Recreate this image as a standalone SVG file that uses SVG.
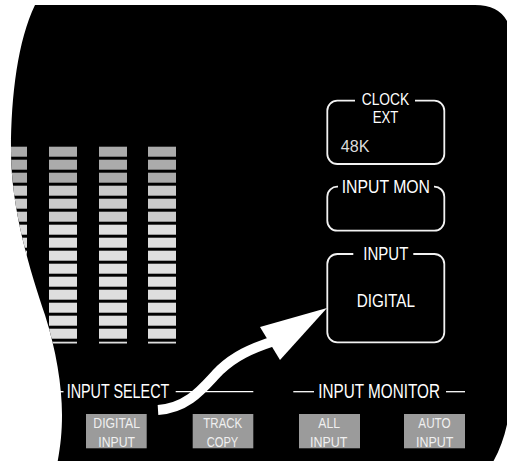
<svg xmlns="http://www.w3.org/2000/svg" width="507" height="461" viewBox="0 0 507 461">
<style>
.t{font-family:"Liberation Sans",Arial,sans-serif;fill:#fff}
.box{fill:none;stroke:#f2f2f2;stroke-width:1.8}
.btn{fill:#9b9b9b}
.bt{font-family:"Liberation Sans",Arial,sans-serif;fill:#f0f0f0;font-size:15px;text-anchor:middle}
.ln{stroke:#fff;stroke-width:1.3}
.d{fill:#ababab}.m{fill:#cbcbcb}.l{fill:#dedede}
</style>
<defs>
<clipPath id="panelClip">
<path d="M35,5 L475,5 Q512,5 512,45 L512,380 C511,415 505,445 488,470 L56,470 C60,450 62,435 62,415 C62,385 56,350 45,315 C30,270 11,210 11,150 C11,95 18,40 35,5 Z"/>
</clipPath>
<clipPath id="meterClip"><rect x="0" y="140" width="200" height="203.5"/></clipPath>
<g id="col">
<rect class="d" x="0" y="146.7" width="28" height="10"/>
<rect class="d" x="0" y="159.7" width="28" height="10"/>
<rect class="d" x="0" y="172.7" width="28" height="10"/>
<rect class="m" x="0" y="185.7" width="28" height="10"/>
<rect class="m" x="0" y="198.7" width="28" height="10"/>
<rect class="m" x="0" y="211.7" width="28" height="10"/>
<rect class="l" x="0" y="224.7" width="28" height="10"/>
<rect class="l" x="0" y="237.7" width="28" height="10"/>
<rect class="l" x="0" y="250.7" width="28" height="10"/>
<rect class="l" x="0" y="263.7" width="28" height="10"/>
<rect class="l" x="0" y="276.7" width="28" height="10"/>
<rect class="l" x="0" y="289.7" width="28" height="10"/>
<rect class="l" x="0" y="302.7" width="28" height="10"/>
<rect class="l" x="0" y="315.7" width="28" height="10"/>
<rect class="l" x="0" y="328.7" width="28" height="10"/>
<rect class="l" x="0" y="341.7" width="28" height="10"/>
</g>
</defs>
<rect width="507" height="461" fill="#fff"/>
<path id="panel" d="M35,5 L475,5 Q512,5 512,45 L512,380 C511,415 505,445 488,470 L56,470 C60,450 62,435 62,415 C62,385 56,350 45,315 C30,270 11,210 11,150 C11,95 18,40 35,5 Z" fill="#000"/>
<g id="meters" clip-path="url(#panelClip)">
<g clip-path="url(#meterClip)">
<use href="#col" x="-1"/>
<use href="#col" x="49"/>
<use href="#col" x="99"/>
<use href="#col" x="148"/>
</g>
</g>
<g id="clock">
<path class="box" d="M355,100.7 L337.3,100.7 A10,10 0 0 0 327.3,110.7 L327.3,154 A10,10 0 0 0 337.3,164 L434.3,164 A10,10 0 0 0 444.3,154 L444.3,110.7 A10,10 0 0 0 434.3,100.7 L415,100.7"/>
<text class="t" x="361.7" y="104.5" font-size="16" textLength="47.6" lengthAdjust="spacingAndGlyphs">CLOCK</text>
<text class="t" x="372.7" y="123" font-size="16" textLength="25.6" lengthAdjust="spacingAndGlyphs">EXT</text>
<text class="t" x="340.7" y="151.7" font-size="16" style="fill:#dcdcdc" textLength="28.7" lengthAdjust="spacingAndGlyphs">48K</text>
</g>
<g id="inputmon">
<path class="box" d="M338,186.7 A10,10 0 0 0 327.3,196.7 L327.3,220.7 A10,10 0 0 0 337.3,230.7 L434.3,230.7 A10,10 0 0 0 444.3,220.7 L444.3,196.7 A10,10 0 0 0 434,186.7"/>
<text class="t" x="341.7" y="192.7" font-size="18" textLength="88.3" lengthAdjust="spacingAndGlyphs">INPUT MON</text>
</g>
<g id="input">
<path class="box" d="M353.3,254 L337.3,254 A10,10 0 0 0 327.3,264 L327.3,332.3 A10,10 0 0 0 337.3,342.3 L434.3,342.3 A10,10 0 0 0 444.3,332.3 L444.3,264 A10,10 0 0 0 434.3,254 L413.3,254"/>
<text class="t" x="363.3" y="260" font-size="18" textLength="45" lengthAdjust="spacingAndGlyphs">INPUT</text>
<text class="t" x="356.7" y="306.7" font-size="17.5" textLength="58.3" lengthAdjust="spacingAndGlyphs">DIGITAL</text>
</g>
<g id="inputselect">
<line class="ln" x1="55" y1="391.7" x2="63.5" y2="391.7"/>
<text class="t" x="66.7" y="398.3" font-size="19.5" textLength="102.6" lengthAdjust="spacingAndGlyphs">INPUT SELECT</text>
<line class="ln" x1="175.7" y1="391.7" x2="253.3" y2="391.7"/>
</g>
<g id="inputmonitor">
<line class="ln" x1="293.3" y1="391.7" x2="314" y2="391.7"/>
<text class="t" x="318.3" y="398.3" font-size="19.5" textLength="121.7" lengthAdjust="spacingAndGlyphs">INPUT MONITOR</text>
<line class="ln" x1="446" y1="391.7" x2="465" y2="391.7"/>
</g>
<g id="btn-digital">
<rect class="btn" x="86" y="414" width="60.7" height="34.3"/>
<text class="bt" x="116.7" y="428.3" textLength="46.7" lengthAdjust="spacingAndGlyphs">DIGITAL</text>
<text class="bt" x="116.7" y="446.5" textLength="36.7" lengthAdjust="spacingAndGlyphs">INPUT</text>
</g>
<g id="btn-track">
<rect class="btn" x="192.7" y="414" width="60.6" height="34.3"/>
<text class="bt" x="222.8" y="428.3" textLength="39" lengthAdjust="spacingAndGlyphs">TRACK</text>
<text class="bt" x="222.5" y="446.5" textLength="31.6" lengthAdjust="spacingAndGlyphs">COPY</text>
</g>
<g id="btn-all">
<rect class="btn" x="299" y="414" width="61" height="34.3"/>
<text class="bt" x="329.2" y="428.3" textLength="21.7" lengthAdjust="spacingAndGlyphs">ALL</text>
<text class="bt" x="328.7" y="446.5" textLength="37.3" lengthAdjust="spacingAndGlyphs">INPUT</text>
</g>
<g id="btn-auto">
<rect class="btn" x="404" y="414" width="61" height="34.3"/>
<text class="bt" x="434.5" y="428.3" textLength="32.4" lengthAdjust="spacingAndGlyphs">AUTO</text>
<text class="bt" x="434.7" y="446.5" textLength="37.3" lengthAdjust="spacingAndGlyphs">INPUT</text>
</g>
<g id="connectors">
<path d="M158,410 C190,408 205,385 220,370 C235,356 250,349 274,341" fill="none" stroke="#fff" stroke-width="10"/>
<polygon points="327,308 260,327 280,360" fill="#fff"/>
</g>
</svg>
